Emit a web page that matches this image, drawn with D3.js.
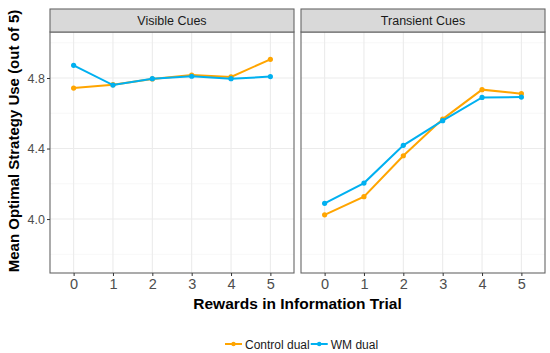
<!DOCTYPE html>
<html>
<head>
<meta charset="utf-8">
<script src="https://cdn.jsdelivr.net/npm/d3@7"></script>
<style>
  body { margin: 0; background: #fff; }
  svg { font-family: Arial, "Liberation Sans", sans-serif; }
</style>
</head>
<body>
<svg id="chart" width="550" height="353"></svg>
<script>
// data
var rewards = [0, 1, 2, 3, 4, 5];
var panels = ["Visible Cues", "Transient Cues"];
var seriesNames = ["Control dual", "WM dual"];
var colors = ["#FFA500", "#00B0F0"];

var visibleControl = [4.743, 4.762, 4.795, 4.817, 4.806, 4.906];
var visibleWM = [4.872, 4.760, 4.796, 4.810, 4.796, 4.808];
var transientControl = [4.024, 4.127, 4.359, 4.567, 4.734, 4.711];
var transientWM = [4.089, 4.204, 4.418, 4.558, 4.690, 4.692];

var yTicks = [4.0, 4.4, 4.8];
var yMinor = [3.8, 4.2, 4.6, 5.0];

var panelData = [
  [visibleControl, visibleWM],
  [transientControl, transientWM]
];

var svg = d3.select("#chart");

var panelX = [[50, 294], [301, 545]];
var plotTop = 32, plotBottom = 273, stripTop = 9;

var y = d3.scaleLinear().domain([3.694, 5.061]).range([plotBottom, plotTop]);

panels.forEach(function(name, p) {
  var x0 = panelX[p][0], x1 = panelX[p][1];
  var x = d3.scaleLinear().domain([-0.6, 5.6]).range([x0, x1]);
  var g = svg.append("g");

  // minor grid
  g.selectAll("line.ymin").data(yMinor).enter().append("line")
    .attr("x1", x0).attr("x2", x1)
    .attr("y1", function(d) { return y(d); }).attr("y2", function(d) { return y(d); })
    .attr("stroke", "#f2f2f2").attr("stroke-width", 0.6);
  // major grid
  g.selectAll("line.ymaj").data(yTicks).enter().append("line")
    .attr("x1", x0).attr("x2", x1)
    .attr("y1", function(d) { return y(d); }).attr("y2", function(d) { return y(d); })
    .attr("stroke", "#ebebeb").attr("stroke-width", 1.1);
  g.selectAll("line.xmaj").data(rewards).enter().append("line")
    .attr("y1", plotTop).attr("y2", plotBottom)
    .attr("x1", function(d) { return x(d); }).attr("x2", function(d) { return x(d); })
    .attr("stroke", "#ebebeb").attr("stroke-width", 1.1);

  // lines
  var line = d3.line()
    .x(function(d, i) { return x(rewards[i]); })
    .y(function(d) { return y(d); });

  panelData[p].forEach(function(vals, s) {
    g.append("path").datum(vals)
      .attr("d", line)
      .attr("fill", "none")
      .attr("stroke", colors[s])
      .attr("stroke-width", 2);
    g.selectAll("circle.s" + s).data(vals).enter().append("circle")
      .attr("cx", function(d, i) { return x(rewards[i]); })
      .attr("cy", function(d) { return y(d); })
      .attr("r", 2.6)
      .attr("fill", colors[s]);
  });

  // panel border
  g.append("rect")
    .attr("x", x0).attr("y", plotTop)
    .attr("width", x1 - x0).attr("height", plotBottom - plotTop)
    .attr("fill", "none").attr("stroke", "#666").attr("stroke-width", 1.1);

  // strip
  g.append("rect")
    .attr("x", x0).attr("y", stripTop)
    .attr("width", x1 - x0).attr("height", plotTop - stripTop)
    .attr("fill", "#d9d9d9").attr("stroke", "#666").attr("stroke-width", 1.1);
  g.append("text")
    .attr("x", (x0 + x1) / 2).attr("y", (stripTop + plotTop) / 2 + 4.5)
    .attr("text-anchor", "middle")
    .attr("font-size", 12.5)
    .attr("fill", "#1a1a1a")
    .text(name);

  // x axis
  var xAxis = d3.axisBottom(x).tickValues(rewards).tickFormat(d3.format("d"))
    .tickSize(3).tickPadding(3);
  var ax = g.append("g").attr("transform", "translate(0," + plotBottom + ")").call(xAxis);
  ax.select(".domain").remove();
  ax.selectAll(".tick line").attr("stroke", "#333");
  ax.selectAll(".tick text").attr("font-size", 14.5).attr("fill", "#4d4d4d")
    .attr("font-family", "Arial, 'Liberation Sans', sans-serif");

  if (p === 0) {
    var yAxis = d3.axisLeft(y).tickValues(yTicks).tickFormat(d3.format(".1f")).tickSize(3).tickPadding(2);
    var ay = g.append("g").attr("transform", "translate(" + x0 + ",0)").call(yAxis);
    ay.select(".domain").remove();
    ay.selectAll(".tick line").attr("stroke", "#333");
    ay.selectAll(".tick text").attr("font-size", 12.5).attr("fill", "#4d4d4d")
      .attr("font-family", "Arial, 'Liberation Sans', sans-serif");
  }
});

// axis titles
svg.append("text")
  .attr("x", 297.5).attr("y", 309)
  .attr("text-anchor", "middle")
  .attr("font-size", 15.5).attr("font-weight", "bold")
  .text("Rewards in Information Trial");

svg.append("text")
  .attr("transform", "translate(19," + ((stripTop + plotBottom) / 2) + ") rotate(-90)")
  .attr("text-anchor", "middle")
  .attr("font-size", 15).attr("font-weight", "bold")
  .text("Mean Optimal Strategy Use (out of 5)");

// legend
var legend = svg.append("g").attr("transform", "translate(225,344)");
var lx = 0;
seriesNames.forEach(function(n, i) {
  var lg = legend.append("g").attr("transform", "translate(" + lx + ",0)");
  lg.append("line").attr("x1", 0).attr("x2", 17).attr("y1", 0).attr("y2", 0)
    .attr("stroke", colors[i]).attr("stroke-width", 2);
  lg.append("circle").attr("cx", 8.5).attr("cy", 0).attr("r", 2.2).attr("fill", colors[i]);
  var t = lg.append("text").attr("x", 20).attr("y", 4.5)
    .attr("font-size", 12).attr("fill", "#1a1a1a").text(n);
  lx += 20 + t.node().getComputedTextLength() + 1;
});
</script>
</body>
</html>
